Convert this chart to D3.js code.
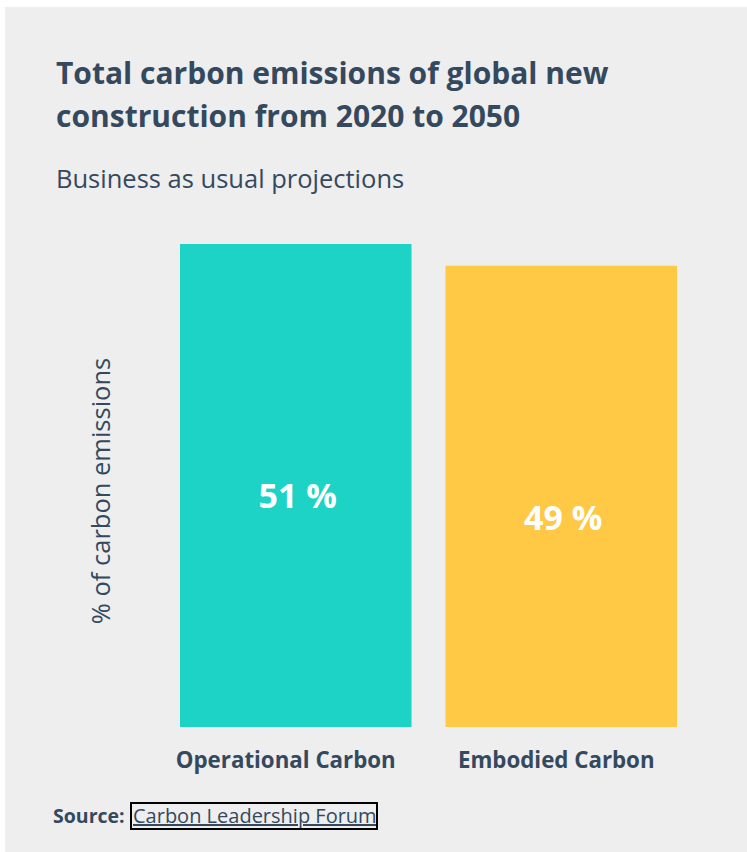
<!DOCTYPE html>
<html>
<head>
<meta charset="utf-8">
<script src="https://cdn.jsdelivr.net/npm/d3@7"></script>
<style>
  html, body { margin: 0; padding: 0; background: #ffffff; }
  svg { display: block; }
</style>
</head>
<body>
<svg id="chart" width="747" height="852"></svg>
<script>
const categories = ["Operational Carbon", "Embodied Carbon"];
const values = [51, 48.7];
const colors = ["#1dd3c5", "#ffc845"];
const titleLines = ["Total carbon emissions of global new", "construction from 2020 to 2050"];
const subtitle = "Business as usual projections";
const yAxisLabel = "% of carbon emissions";
const sourceLabel = "Source:";
const sourceText = "Carbon Leadership Forum";

const FONT = "'Open Sans', sans-serif";
const TEXT = "#34495e";

const svg = d3.select("#chart");
svg.append("rect").attr("x", 5).attr("y", 7).attr("width", 742).attr("height", 845).attr("fill", "#eeeeee");

svg.selectAll("text.title").data(titleLines).enter().append("text")
  .attr("class", "title")
  .attr("x", 56).attr("y", (d, i) => 84 + i * 43)
  .attr("font-family", FONT).attr("font-weight", 700).attr("font-size", 30)
  .attr("fill", TEXT).text(d => d);

svg.append("text").attr("x", 56).attr("y", 188)
  .attr("font-family", FONT).attr("font-size", 25.5).attr("fill", TEXT).text(subtitle);

const x = d3.scaleBand().domain(categories).range([180, 677]).paddingInner(0.128).paddingOuter(0);
const y = d3.scaleLinear().domain([0, 51]).range([727, 244]);

const data = categories.map((c, i) => ({ c, v: values[i], color: colors[i] }));

svg.selectAll("rect.bar").data(data).enter().append("rect")
  .attr("class", "bar")
  .attr("x", d => x(d.c)).attr("width", x.bandwidth())
  .attr("y", d => y(d.v)).attr("height", d => y(0) - y(d.v))
  .attr("fill", d => d.color);

svg.selectAll("text.val").data(data).enter().append("text")
  .attr("class", "val")
  .attr("x", d => x(d.c) + x.bandwidth() / 2 + 2)
  .attr("y", d => y(d.v) + 264)
  .attr("text-anchor", "middle")
  .attr("font-family", FONT).attr("font-weight", 700).attr("font-size", 34)
  .attr("fill", "#ffffff").text(d => d3.format(".0f")(d.v) + " %");

const xAxis = svg.append("g").attr("transform", `translate(0,${y(0)})`)
  .call(d3.axisBottom(x).tickSize(0).tickPadding(0));
xAxis.select(".domain").remove();
xAxis.selectAll(".tick").attr("transform", (d, i) => `translate(${x(d) + x.bandwidth() / 2 - (i === 0 ? 10 : 5)},0)`);
xAxis.selectAll("text")
  .attr("dy", 0).attr("y", 41)
  .attr("font-family", FONT).attr("font-weight", 700).attr("font-size", 22.3)
  .attr("fill", TEXT);

svg.append("text")
  .attr("transform", `translate(110,491) rotate(-90)`)
  .attr("text-anchor", "middle")
  .attr("font-family", FONT).attr("font-size", 25.5).attr("fill", TEXT)
  .text(yAxisLabel);

svg.append("text").attr("x", 53).attr("y", 823)
  .attr("font-family", FONT).attr("font-weight", 700).attr("font-size", 19.5)
  .attr("fill", TEXT).text(sourceLabel);

svg.append("text").attr("x", 133).attr("y", 823)
  .attr("font-family", FONT).attr("font-size", 20)
  .attr("fill", TEXT).attr("text-decoration", "underline").text(sourceText);
svg.append("rect").attr("x", 131).attr("y", 803)
  .attr("width", 246).attr("height", 26)
  .attr("fill", "none").attr("stroke", "#000").attr("stroke-width", 2);
</script>
</body>
</html>
